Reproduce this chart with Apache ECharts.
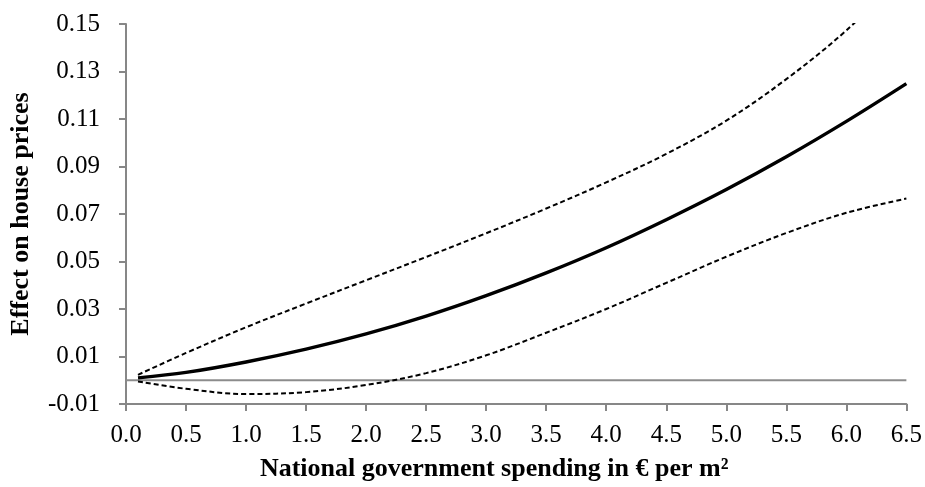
<!DOCTYPE html>
<html>
<head>
<meta charset="utf-8">
<script src="https://cdn.jsdelivr.net/npm/echarts@6/dist/echarts.min.js"></script>
<style>
  html, body { margin: 0; padding: 0; background: #fff; }
  #chart { width: 925px; height: 487px; }
</style>
</head>
<body>
<div id="chart"></div>
<script>
// Spending levels (€ per m²) at which the effect is evaluated
const spending = [0.1, 0.5, 1.0, 1.5, 2.0, 2.5, 3.0, 3.5, 4.0, 4.5, 5.0, 5.5, 6.0, 6.5];
// Point estimate of the effect on house prices
const estimate = [0.001, 0.0033, 0.0077, 0.0131, 0.0195, 0.0270, 0.0356, 0.0452, 0.0558, 0.0676, 0.0803, 0.0941, 0.1090, 0.1249];
// Upper and lower confidence bounds
const upperBound = [0.0023, 0.0115, 0.0223, 0.0323, 0.0421, 0.0519, 0.0619, 0.0723, 0.0833, 0.0953, 0.1093, 0.1268, 0.1473, 0.1720];
const lowerBound = [-0.0005, -0.0036, -0.0058, -0.0050, -0.0020, 0.0030, 0.0105, 0.0200, 0.0300, 0.0410, 0.0520, 0.0620, 0.0705, 0.0765];
// Reference line at zero
const zeroLine = [[0, 0], [6.5, 0]];

const xTicks = ['0.0','0.5','1.0','1.5','2.0','2.5','3.0','3.5','4.0','4.5','5.0','5.5','6.0','6.5'];

const pair = (xs, ys) => xs.map((x, i) => [x, ys[i]]);

const FONT = '"Liberation Serif", "Times New Roman", serif';
const AXIS_GREY = '#878787';

const chart = echarts.init(document.getElementById('chart'), null, { renderer: 'canvas' });
chart.setOption({
  animation: false,
  backgroundColor: '#ffffff',
  grid: { left: 121, right: 18, top: 24, bottom: 76, containLabel: false },
  xAxis: {
    type: 'value',
    min: 0, max: 6.5, interval: 0.5,
    name: 'National government spending in € per m²',
    nameLocation: 'middle',
    nameGap: 52,
    nameTextStyle: { fontFamily: FONT, fontSize: 26, fontWeight: 'bold', color: '#000', padding: [0, 44, 0, 0] },
    axisLine: { show: true, onZero: false, lineStyle: { color: AXIS_GREY, width: 2 } },
    axisTick: { show: true, length: 7, lineStyle: { color: AXIS_GREY, width: 2 } },
    splitLine: { show: false },
    axisLabel: {
      fontFamily: FONT, fontSize: 25, color: '#000', margin: 19,
      formatter: v => xTicks[Math.round(v / 0.5)]
    }
  },
  yAxis: {
    type: 'value',
    min: -0.01, max: 0.15, interval: 0.02,
    name: 'Effect on house prices',
    nameLocation: 'middle',
    nameGap: 92,
    nameTextStyle: { fontFamily: FONT, fontSize: 26, fontWeight: 'bold', color: '#000' },
    axisLine: { show: true, lineStyle: { color: AXIS_GREY, width: 2 } },
    axisTick: { show: true, length: 7, lineStyle: { color: AXIS_GREY, width: 2 } },
    splitLine: { show: false },
    axisLabel: {
      fontFamily: FONT, fontSize: 25, color: '#000', margin: 26,
      formatter: v => v.toFixed(2)
    }
  },
  series: [
    {
      name: 'zero', type: 'line', data: zeroLine, symbol: 'none',
      lineStyle: { color: '#8c8c8c', width: 2 }, z: 1
    },
    {
      name: 'upper', type: 'line', data: pair(spending, upperBound), symbol: 'none',
      smooth: 0.35, clip: true,
      lineStyle: { color: '#000', width: 2, type: [5, 3] }, z: 2
    },
    {
      name: 'lower', type: 'line', data: pair(spending, lowerBound), symbol: 'none',
      smooth: 0.35, clip: true,
      lineStyle: { color: '#000', width: 2, type: [5, 3] }, z: 2
    },
    {
      name: 'estimate', type: 'line', data: pair(spending, estimate), symbol: 'none',
      smooth: 0.35, clip: true,
      lineStyle: { color: '#000', width: 3.4 }, z: 3
    }
  ]
});
</script>
</body>
</html>
